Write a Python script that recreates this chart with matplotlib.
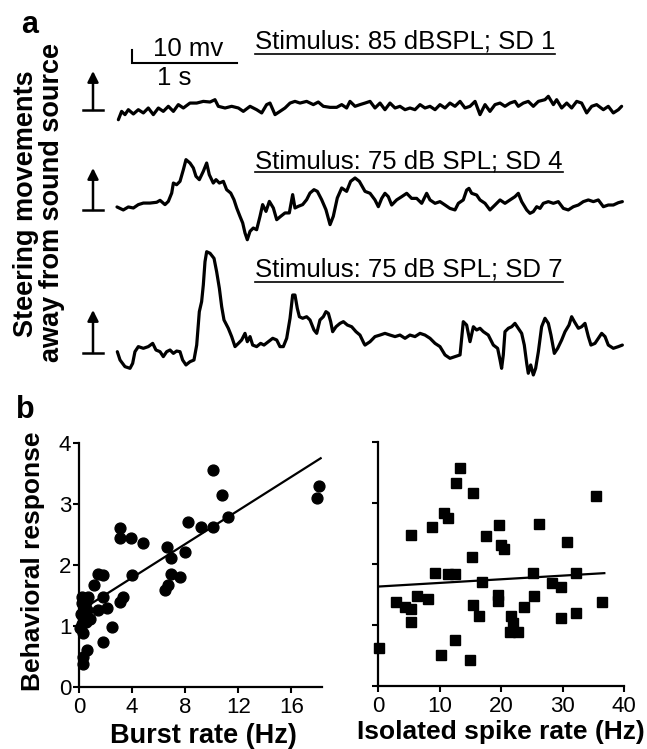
import numpy as np
import matplotlib.pyplot as plt

plt.rcParams['font.family'] = ['Liberation Sans', 'DejaVu Sans']

# ---- panel a: steering traces (time in s, amplitude in mV) ----
trace1_t = [0.013, 0.044, 0.076, 0.108, 0.156, 0.203, 0.251, 0.298, 0.346, 0.394,
            0.441, 0.489, 0.537, 0.584, 0.632, 0.695, 0.759, 0.822, 0.886, 0.933,
            0.965, 1.029, 1.092, 1.156, 1.203, 1.267, 1.330, 1.378, 1.425, 1.457,
            1.505, 1.552, 1.600, 1.648, 1.695, 1.743, 1.806, 1.870, 1.917, 1.965,
            2.029, 2.092, 2.140, 2.187, 2.219, 2.267, 2.314,
            2.362, 2.410, 2.457, 2.505, 2.552, 2.600, 2.648, 2.695, 2.743, 2.790,
            2.838, 2.886, 2.933, 2.981, 3.029, 3.076, 3.124, 3.171, 3.219, 3.267,
            3.314, 3.362, 3.410, 3.457, 3.505, 3.552, 3.600, 3.648, 3.695, 3.743,
            3.790, 3.822, 3.870, 3.917, 3.965, 4.013, 4.076, 4.108, 4.156, 4.187,
            4.235, 4.283, 4.330, 4.378, 4.425, 4.473, 4.521, 4.568, 4.632, 4.679,
            4.727, 4.775, 4.806]
trace1_v = [-9.0, -2.6, -5.1, -1.3, -4.6, -1.3, -3.8, 0, -5.1, 0,
            -2.6, 1.3, -2.6, 2.6, 0, 3.8, 3.8, 5.1, 4.6, 6.4,
            1.3, 0, 1.3, 0, -2.6, 1.3, -1.3, -3.8, 2.6, 3.8,
            -5.1, -2.6, 0, 3.8, 5.1, 3.8, 5.1, 2.6, 4.6, 1.3,
            0.5, 0.5, 2.6, 0, 5.1, 1.3, 2.6,
            3.8, 5.1, 0, 3.8, -1.3, 3.8, 0, 1.3, -1.3, 0,
            -1.3, 2.6, 0, 1.3, -1.3, 2.6, 0, 3.8, 1.3, 5.1,
            0, 1.3, 5.1, -5.1, 2.6, -2.6, 2.6, 3.8, 1.3, 3.8,
            5.1, 1.3, 3.8, 5.1, 1.3, 5.1, 6.4, 9.0, 2.6, 6.4,
            0, 3.8, 0, 5.1, 3.8, -3.8, 1.3, 2.6, -1.3, 1.3,
            -3.8, -1.3, 1.3]

trace2_t = [0.0, 0.060, 0.108, 0.156, 0.203, 0.251, 0.314, 0.378, 0.410, 0.457,
            0.489, 0.521, 0.537, 0.568, 0.600, 0.632, 0.657, 0.695, 0.727, 0.752,
            0.784, 0.822, 0.854, 0.879, 0.917, 0.943, 0.975, 1.013, 1.044, 1.083,
            1.114, 1.140, 1.171, 1.197, 1.219, 1.241, 1.267, 1.298, 1.330, 1.362,
            1.387, 1.419, 1.451, 1.489, 1.521, 1.559, 1.600, 1.641, 1.673, 1.695,
            1.727, 1.768, 1.806, 1.838, 1.876, 1.908, 1.949, 1.990, 2.029, 2.060,
            2.098, 2.140, 2.187, 2.225, 2.267, 2.308, 2.362,
            2.410, 2.457, 2.489, 2.521, 2.552, 2.584, 2.616, 2.663, 2.711, 2.759,
            2.806, 2.854, 2.902, 2.949, 2.981, 3.029, 3.076, 3.124, 3.171, 3.219,
            3.251, 3.298, 3.330, 3.352, 3.378, 3.425, 3.457, 3.505, 3.552, 3.600,
            3.648, 3.695, 3.743, 3.790, 3.822, 3.854, 3.902, 3.933, 3.965, 3.997,
            4.029, 4.060, 4.108, 4.156, 4.203, 4.251, 4.298, 4.346, 4.394, 4.441,
            4.489, 4.537, 4.584, 4.632, 4.679, 4.727, 4.775, 4.813]
trace2_v = [0.8, -1.5, 0.8, 0, 2.6, 3.8, 3.8, 4.4, 5.9, 2.6,
            5.1, 11.5, 19.2, 17.9, 20.5, 29.5, 37.2, 34.6, 30.8, 24.4,
            21.8, 28.2, 34.6, 25.6, 19.2, 21.8, 19.2, 20.5, 14.1, 11.5,
            6.4, 0, -6.4, -11.5, -19.2, -24.4, -17.9, -15.4, -16.7, -6.4,
            2.6, -2.6, 5.1, 0, -9.0, -6.4, -3.8, -3.8, 10.3, 0,
            1.3, 2.6, 6.4, 11.5, 14.1, 12.8, 6.4, -1.3, -12.8, -6.4,
            7.7, 15.4, 12.8, 20.5, 23.1, 20.5, 12.8,
            11.3, 6.2, 1.0, 7.4, 11.3, 8.7, 2.3, 6.2, 8.7, 11.3,
            7.4, 7.4, 3.6, 11.3, 6.2, 3.6, 4.9, 2.3, -0.3, -1.5,
            3.6, 6.2, 13.8, 15.1, 11.3, 10.0, 6.2, 3.6, -1.5, 2.3,
            6.2, 3.6, 6.2, 8.7, 11.3, 4.9, -1.5, -4.1, -2.8, 1.0,
            -0.3, 3.6, 4.9, 3.6, 4.9, -0.3, -1.5, 1.0, 2.3, 4.9,
            6.2, 4.9, 6.2, 1.0, 2.3, 2.3, 4.1, 4.9]

trace3_t = [0.003, 0.029, 0.076, 0.124, 0.149, 0.171, 0.203, 0.251, 0.298, 0.340,
            0.371, 0.410, 0.441, 0.473, 0.505, 0.537, 0.568, 0.600, 0.625, 0.657,
            0.695, 0.733, 0.759, 0.784, 0.806, 0.822, 0.838, 0.854, 0.886, 0.924,
            0.949, 0.975, 0.997, 1.019, 1.060, 1.092, 1.124, 1.156, 1.187, 1.219,
            1.241, 1.267, 1.292, 1.330, 1.368, 1.400, 1.441, 1.483, 1.521, 1.552,
            1.584, 1.616, 1.648, 1.673, 1.695, 1.717, 1.737, 1.768, 1.806, 1.838,
            1.876, 1.902, 1.933, 1.965, 1.990, 2.013, 2.035, 2.054, 2.086, 2.124,
            2.156, 2.194, 2.235, 2.276, 2.314, 2.352,
            2.362, 2.410, 2.457, 2.505, 2.552, 2.600, 2.648, 2.695, 2.743, 2.790,
            2.838, 2.886, 2.933, 2.981, 3.029, 3.076, 3.124, 3.171, 3.219, 3.267,
            3.298, 3.330, 3.362, 3.394, 3.425, 3.457, 3.489, 3.536, 3.584, 3.625,
            3.648, 3.663, 3.679, 3.695, 3.727, 3.759, 3.790, 3.822, 3.854, 3.879,
            3.902, 3.917, 3.940, 3.965, 3.987, 4.013, 4.044, 4.076, 4.108, 4.133,
            4.165, 4.197, 4.235, 4.267, 4.305, 4.330, 4.356, 4.394, 4.425, 4.457,
            4.489, 4.514, 4.552, 4.584, 4.616, 4.648, 4.679, 4.727, 4.775, 4.813]
trace3_v = [-1.3, -7.7, -12.8, -14.1, -10.3, -1.3, 2.6, 1.3, 2.6, 5.1,
            0, -1.3, -5.1, -1.3, 0, -2.6, -0.8, -1.3, -7.7, -11.5,
            -9.0, -7.7, 3.8, 29.5, 37.2, 50.0, 67.9, 75.6, 74.4, 70.5,
            60.2, 47.4, 33.3, 23.1, 16.7, 10.3, 2.6, 5.1, 7.7, 12.8,
            6.4, 10.3, 3.8, 2.6, 5.1, 3.8, 6.4, 9.0, 7.7, 2.6,
            2.6, 9.0, 24.4, 42.3, 42.3, 32.1, 25.6, 24.4, 25.6, 23.1,
            15.4, 12.8, 23.1, 25.6, 29.5, 28.2, 21.8, 14.1, 17.9, 20.5,
            21.8, 19.2, 17.9, 14.1, 11.5, 5.1,
            3.8, 6.4, 10.3, 11.5, 12.8, 11.5, 10.3, 11.5, 9.0, 11.5,
            10.3, 12.8, 11.5, 9.0, 5.1, 2.6, -3.8, -6.4, -5.1, -3.8,
            21.8, 19.2, 6.4, 17.9, 15.4, 16.7, 14.1, 11.5, 3.8, 1.3,
            -7.7, -14.1, -3.8, 14.1, 16.7, 17.9, 20.5, 16.7, 12.8, 3.8,
            -10.3, -17.9, -11.5, -19.2, -14.1, -1.3, 17.9, 24.4, 20.5, 11.5,
            -2.6, 1.3, 7.7, 14.1, 19.2, 25.6, 21.8, 16.7, 17.9, 20.5,
            10.3, 3.8, 5.1, 9.0, 12.8, 10.3, 3.8, 1.3, 2.6, 3.8]

stim_labels = ['Stimulus: 85 dBSPL; SD 1',
               'Stimulus: 75 dB SPL; SD 4',
               'Stimulus: 75 dB SPL; SD 7']

# ---- panel b: scatter data ----
burst_rate = [10.1, 10.8, 17.95, 18.1, 11.2, 10.1, 9.2, 8.2, 7.95, 6.6,
              6.95, 6.95, 7.6, 6.5, 6.7, 3.1, 3.1, 3.9, 4.8, 4.0,
              3.3, 3.1, 1.4, 1.8, 1.1, 1.8, 1.45, 2.1, 2.5, 1.8,
              0.7, 0.8, 0.6, 0.3, 0.3, 0.3, 0.2, 0.45, 0.3, 0.6,
              0.2, 0.2, 0.5, 0.1, 0.4, 0.15, 0.55]
behav_burst = [3.55, 3.15, 3.10, 3.29, 2.79, 2.63, 2.62, 2.71, 2.22, 2.30,
               2.11, 1.86, 1.81, 1.59, 1.67, 2.60, 2.44, 2.44, 2.36, 1.84,
               1.48, 1.40, 1.86, 1.84, 1.67, 1.48, 1.26, 1.29, 0.98, 0.74,
               1.48, 1.12, 0.60, 0.88, 0.49, 0.38, 1.37, 1.26, 1.15, 1.26,
               1.48, 1.04, 1.07, 0.96, 1.35, 1.20, 1.40]
burst_fit_x = [0.0, 18.2]
burst_fit_y = [1.24, 3.75]

spike_rate = [13.35, 12.75, 15.4, 35.5, 10.8, 11.4, 8.8, 19.6, 26.2, 5.4,
              17.6, 20.05, 20.5, 30.8, 15.3, 9.3, 11.4, 12.5, 25.2, 32.2,
              16.9, 28.3, 29.8, 3.0, 4.4, 5.3, 6.3, 8.1, 5.4, 15.4,
              16.5, 19.5, 19.5, 25.3, 23.8, 21.7, 22.0, 21.4, 22.8, 29.7,
              32.2, 36.4, 12.5, 10.3, 15.0, 0.1]
behav_spike = [3.57, 3.32, 3.17, 3.11, 2.83, 2.75, 2.61, 2.64, 2.66, 2.48,
               2.46, 2.31, 2.25, 2.36, 2.12, 1.86, 1.83, 1.83, 1.86, 1.85,
               1.70, 1.69, 1.62, 1.37, 1.30, 1.27, 1.47, 1.42, 1.05, 1.32,
               1.15, 1.49, 1.40, 1.48, 1.30, 1.15, 1.03, 0.89, 0.89, 1.11,
               1.19, 1.38, 0.75, 0.51, 0.42, 0.63]
spike_fit_x = [0.0, 36.8]
spike_fit_y = [1.63, 1.85]

for a, b in [(trace1_t, trace1_v), (trace2_t, trace2_v), (trace3_t, trace3_v),
             (burst_rate, behav_burst), (spike_rate, behav_spike)]:
    assert len(a) == len(b), (len(a), len(b))

W, H = 647, 749
fig = plt.figure(figsize=(W / 100, H / 100), dpi=100)

# top panel works in seconds / mV, placed so that 1 s = 105 px, 10 mV = 13 px
TOP_H = 390
PX_PER_S = 105
PX_PER_MV = 1.3
T0_PX = 117


def tx(x_px):
    return (x_px - T0_PX) / PX_PER_S


def my(y_px):
    return (TOP_H - y_px) / PX_PER_MV


ax = fig.add_axes([0, 1 - TOP_H / H, 1, TOP_H / H])
ax.set_xlim(tx(0), tx(W))
ax.set_ylim(0, TOP_H / PX_PER_MV)
ax.axis('off')

# (trace baseline, arrow base, arrow top, label baseline, underline) in px
rows = [(108, 110, 71, 49, 54),
        (208, 210, 168, 168, 172),
        (350, 353, 310, 277, 282)]
traces = [(trace1_t, trace1_v), (trace2_t, trace2_v), (trace3_t, trace3_v)]

labels = []
for (t, v), (base, a0, a1, lab_y, ul_y), lab in zip(traces, rows, stim_labels):
    ax.plot(t, my(base) + np.array(v), color='k', lw=2.3,
            solid_joinstyle='round', solid_capstyle='round')
    ax.annotate('', xy=(tx(93), my(a1)), xytext=(tx(93), my(a0)),
                arrowprops=dict(arrowstyle='-|>', color='k', lw=1.8,
                                mutation_scale=16, shrinkA=0, shrinkB=0))
    ax.plot([tx(83), tx(103)], [my(a0), my(a0)], color='k', lw=1.8)
    txt = ax.text(tx(255), my(lab_y), lab, fontsize=18.5, va='baseline', ha='left')
    labels.append((txt, ul_y))

# scale bar
ax.plot([tx(132), tx(132), tx(132) + 1.0], [my(50), my(63), my(63)],
        color='k', lw=1.5, solid_joinstyle='miter')
ax.text(tx(188), my(56), '10 mv', fontsize=18.5, ha='center', va='baseline')
ax.text(tx(174), my(66), '1 s', fontsize=18.5, ha='center', va='top')

fig.canvas.draw()
inv = ax.transData.inverted()
for txt, ul_y in labels:
    bb = txt.get_window_extent()
    x0 = inv.transform((bb.x0, bb.y0))[0]
    x1 = inv.transform((bb.x1, bb.y0))[0]
    ax.plot([x0, x1], [my(ul_y), my(ul_y)], color='k', lw=1.2)

fig.text(21 / W, 1 - 33 / H, 'a', fontsize=22, fontweight='bold', va='baseline')
fig.text(26 / W, 1 - 204 / H, 'Steering movements', fontsize=19.5,
         fontweight='bold', rotation=90, ha='center', va='center')
fig.text(52 / W, 1 - 202 / H, 'away from sound source', fontsize=19.5,
         fontweight='bold', rotation=90, ha='center', va='center')

# ---- panel b ----
def style(axs):
    for s in ['top', 'right']:
        axs.spines[s].set_visible(False)
    for s in ['left', 'bottom']:
        axs.spines[s].set_linewidth(1.6)
    axs.tick_params(direction='out', length=4, width=1.5, labelsize=16)
    axs.tick_params(axis='x', pad=3.5)
    axs.tick_params(axis='y', pad=1.5)
    axs.set_ylim(0, 4)
    axs.set_yticks([0, 1, 2, 3, 4])


axL = fig.add_axes([79 / W, 1 - 687 / H, 243 / W, 244 / H])
axL.plot(burst_rate, behav_burst, 'o', color='k', ms=7.8, clip_on=False)
axL.plot(burst_fit_x, burst_fit_y, color='k', lw=1.6)
axL.set_xlim(0, 18.3)
axL.set_xticks([0, 4, 8, 12, 16])
style(axL)

axR = fig.add_axes([378 / W, 1 - 686 / H, 246 / W, 244 / H])
axR.plot(spike_rate, behav_spike, 's', color='k', ms=7.2, clip_on=False)
axR.plot(spike_fit_x, spike_fit_y, color='k', lw=1.6)
axR.set_xlim(0, 40)
axR.set_xticks([0, 10, 20, 30, 40])
style(axR)
axR.set_yticklabels([])

fig.text(16 / W, 1 - 418 / H, 'b', fontsize=22, fontweight='bold', va='baseline')
fig.text(33 / W, 1 - 561 / H, 'Behavioral response', fontsize=19,
         fontweight='bold', rotation=90, ha='center', va='center')
fig.text(203 / W, 1 - 736 / H, 'Burst rate (Hz)', fontsize=19.5,
         fontweight='bold', ha='center', va='center')
fig.text(501 / W, 1 - 732 / H, 'Isolated spike rate (Hz)', fontsize=19,
         fontweight='bold', ha='center', va='center')

fig.savefig('out.png', dpi=100)
